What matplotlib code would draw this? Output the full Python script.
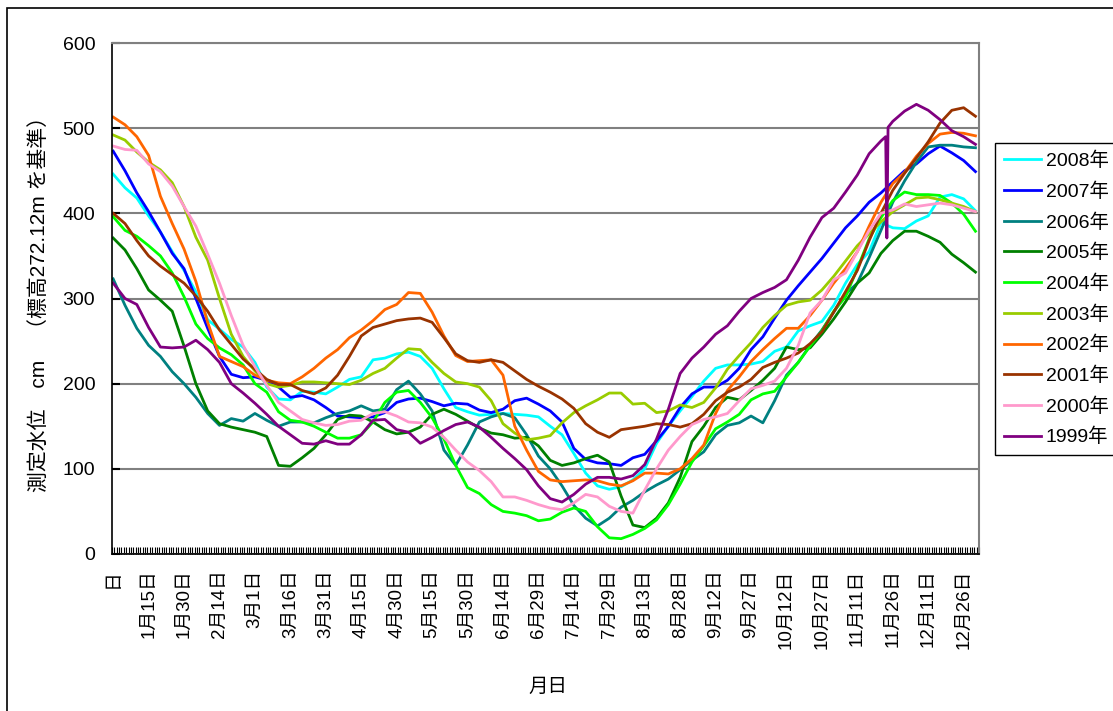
import numpy as np
import matplotlib
matplotlib.use("Agg")
import matplotlib.pyplot as plt

plt.rcParams['font.family'] = ['Liberation Sans', 'Noto Sans CJK JP', 'DejaVu Sans']

# -------- DATA (every 5 days) ------------------------------
days = list(range(0, 366, 5))

y2008 = [446, 430, 418, 397, 378, 355, 333, 308, 275, 264,
         252, 243, 225, 196, 182, 181, 191, 190, 188, 196,
         205, 208, 228, 230, 235, 237, 232, 218, 194, 172,
         167, 163, 164, 165, 164, 163, 161, 150, 140, 118,
         95, 80, 76, 79, 87, 100, 130, 150, 168, 185,
         203, 218, 222, 222, 223, 226, 238, 243, 262, 268,
         273, 292, 318, 340, 355, 389, 383, 382, 391, 397,
         419, 422, 417, 403]
y2007 = [473, 450, 424, 402, 378, 353, 335, 300, 265, 232,
         211, 207, 208, 204, 196, 184, 186, 181, 172, 162,
         161, 160, 161, 166, 178, 182, 183, 179, 174, 177,
         176, 169, 166, 170, 180, 183, 176, 168, 155, 124,
         111, 107, 106, 104, 113, 117, 133, 150, 172, 188,
         196, 196, 204, 218, 240, 255, 277, 298, 315, 331,
         347, 365, 383, 397, 413, 424, 437, 450, 458, 470,
         479, 471, 462, 449]
y2006 = [323, 292, 265, 245, 232, 214, 200, 184, 165, 151,
         159, 156, 165, 157, 150, 155, 155, 154, 160, 165,
         168, 174, 168, 170, 193, 203, 188, 168, 122, 104,
         128, 155, 161, 165, 160, 140, 115, 100, 80, 57,
         42, 33, 42, 55, 63, 73, 81, 88, 99, 110,
         120, 140, 151, 154, 162, 154, 180, 210, 225, 245,
         263, 284, 305, 318, 348, 380, 413, 438, 460, 478,
         480, 480, 478, 477]
y2005 = [371, 357, 335, 310, 298, 285, 244, 200, 168, 153,
         149, 146, 143, 138, 104, 103, 113, 124, 140, 158,
         163, 162, 155, 146, 141, 143, 149, 164, 170, 164,
         156, 148, 142, 140, 136, 137, 127, 110, 104, 107,
         112, 116, 108, 68, 34, 31, 42, 60, 90, 132,
         150, 172, 184, 181, 192, 204, 218, 243, 240, 242,
         258, 276, 296, 318, 330, 353, 368, 379, 379, 373,
         366, 352, 342, 331]
y2004 = [396, 380, 373, 362, 350, 330, 302, 270, 253, 242,
         234, 222, 200, 190, 167, 157, 155, 150, 143, 136,
         136, 140, 155, 178, 190, 192, 178, 160, 135, 104,
         78, 71, 58, 50, 48, 45, 39, 41, 49, 54,
         50, 32, 19, 18, 23, 30, 40, 58, 82, 108,
         127, 147, 155, 164, 181, 188, 191, 208, 225, 244,
         262, 285, 302, 335, 370, 395, 415, 425, 422, 422,
         421, 412, 399, 379]
y2003 = [492, 486, 472, 460, 451, 436, 408, 372, 345, 300,
         258, 232, 215, 200, 196, 198, 202, 202, 201, 200,
         199, 204, 212, 218, 230, 241, 240, 225, 212, 202,
         200, 196, 180, 153, 142, 134, 136, 139, 154, 166,
         174, 181, 189, 189, 176, 177, 166, 168, 175, 172,
         178, 195, 217, 233, 248, 266, 280, 292, 296, 298,
         310, 326, 344, 362, 376, 390, 402, 410, 418, 419,
         416, 412, 408, 402]
y2002 = [513, 504, 490, 468, 420, 388, 358, 320, 272, 232,
         226, 220, 210, 204, 201, 200, 208, 218, 230, 240,
         254, 263, 274, 287, 293, 307, 306, 284, 256, 233,
         226, 227, 228, 210, 150, 122, 97, 87, 85, 86,
         87, 86, 82, 80, 86, 95, 95, 94, 100, 112,
         128, 165, 192, 208, 226, 240, 253, 265, 265, 280,
         298, 318, 335, 355, 385, 413, 435, 448, 467, 482,
         493, 495, 494, 491]
y2001 = [400, 388, 368, 350, 338, 328, 318, 303, 285, 263,
         246, 229, 217, 205, 199, 199, 192, 188, 195, 210,
         232, 256, 266, 270, 274, 276, 277, 272, 254, 235,
         227, 225, 228, 225, 215, 205, 197, 190, 182, 171,
         153, 143, 137, 146, 148, 150, 153, 152, 149, 153,
         164, 180, 190, 196, 205, 219, 225, 230, 236, 247,
         261, 284, 308, 333, 368, 400, 427, 447, 465, 484,
         506, 521, 524, 514]
y2000 = [479, 475, 474, 458, 449, 432, 408, 385, 352, 318,
         280, 245, 220, 198, 178, 168, 158, 154, 151, 152,
         156, 157, 165, 167, 162, 155, 154, 149, 137, 122,
         108, 98, 85, 67, 67, 63, 58, 54, 52, 60,
         70, 67, 56, 50, 48, 75, 100, 122, 138, 152,
         158, 161, 165, 180, 194, 198, 203, 218, 245, 283,
         298, 322, 330, 355, 380, 400, 404, 411, 408, 410,
         412, 410, 406, 402]
# 1999 has a one-day drop near 11/26, so it carries three extra days
days_1999 = days[:66] + [327, 327.5, 328] + days[66:]
y1999 = [318, 300, 293, 266, 243, 242, 243, 251, 240, 225,
         200, 189, 177, 164, 150, 140, 130, 129, 133, 129,
         129, 140, 157, 158, 146, 143, 130, 137, 145, 152,
         155, 149, 137, 124, 112, 99, 80, 65, 61, 70,
         82, 90, 90, 88, 92, 105, 135, 170, 212, 230,
         243, 258, 268, 285, 300, 307, 313, 322, 345, 372,
         395, 406, 425, 445, 470, 485, 490, 371, 501,
         508, 520, 528, 521,
         510, 497, 490, 481]

years = ["2008年", "2007年", "2006年", "2005年", "2004年",
         "2003年", "2002年", "2001年", "2000年", "1999年"]
series = [y2008, y2007, y2006, y2005, y2004, y2003, y2002, y2001, y2000, y1999]
xs = [days] * 9 + [days_1999]
colors = ["#00FFFF", "#0000FF", "#008080", "#008000", "#00FF00",
          "#99CC00", "#FF6600", "#993300", "#FF99CC", "#800080"]

tick_pos = list(range(0, 361, 15))
tick_labels = ["日", "1月15日", "1月30日", "2月14日", "3月1日", "3月16日", "3月31日",
               "4月15日", "4月30日", "5月15日", "5月30日", "6月14日", "6月29日",
               "7月14日", "7月29日", "8月13日", "8月28日", "9月12日", "9月27日",
               "10月12日", "10月27日", "11月11日", "11月26日", "12月11日", "12月26日"]

# -------- PLOT ----------
fig = plt.figure(figsize=(11.13, 7.11), dpi=100)
ax = fig.add_axes([112 / 1113, 1 - 554 / 711, 867 / 1113, 511 / 711])

for x, y, c, lab in zip(xs, series, colors, years):
    ax.plot(x, y, color=c, lw=2.0, label=lab, solid_joinstyle="round")

ax.set_xlim(-0.5, 366.5)
ax.set_ylim(0, 600)
ax.set_yticks(range(0, 601, 100))
ax.yaxis.grid(True, color="#808080", lw=1.5)
ax.set_axisbelow(True)

ax.set_xticks(tick_pos)
ax.set_xticklabels(tick_labels, rotation=90, va="top", ha="center", fontsize=13.5)
ax.set_xticks(np.arange(-0.5, 367, 1), minor=True)
ax.tick_params(axis="x", which="major", length=0, pad=11)
ax.tick_params(axis="x", which="minor", direction="in", length=5, width=0.8)
ax.tick_params(axis="y", direction="in", length=6, width=1.5, labelsize=14, pad=12)

for s in ["top", "right"]:
    ax.spines[s].set_color("#808080")
    ax.spines[s].set_linewidth(1.5)
ax.spines["left"].set_linewidth(1.2)
ax.spines["bottom"].set_linewidth(1.2)

ax.set_ylabel("測定水位　cm　（標高272.12m を基準）", fontsize=15, labelpad=10)
fig.text(548 / 1113, 1 - 687 / 711, "月日", ha="center", va="center", fontsize=14)

fig.legend(loc="upper left", bbox_to_anchor=(995 / 1113, 1 - 143 / 711),
           frameon=True, fancybox=False, edgecolor="black", framealpha=1,
           borderaxespad=0, fontsize=14, handlelength=1.9, handletextpad=0.25,
           labelspacing=0.63, borderpad=0.45)

# outer chart border
fig.patches.append(plt.Rectangle((7 / 1113, -0.1), 1.2, 1.1 - 8 / 711, transform=fig.transFigure,
                                 fill=False, ec="black", lw=1.2))

fig.savefig("out.png", dpi=100)
